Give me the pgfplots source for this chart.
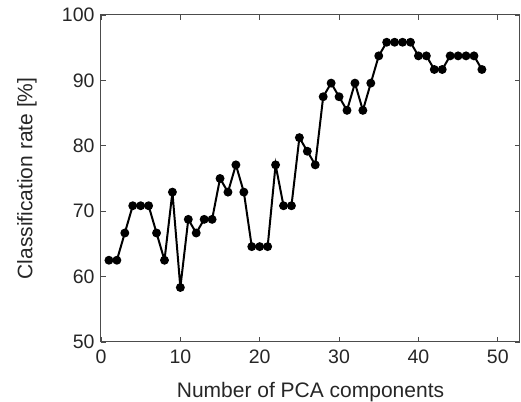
\documentclass[border=0pt]{standalone}
\usepackage{pgfplots}
\pgfplotsset{compat=1.18}
\usepackage{fontspec}
\setmainfont{Liberation Sans}
\begin{document}
\begin{tikzpicture}
\begin{axis}[
  scale only axis,
  width=419pt, height=327pt,
  xmin=0, xmax=52.8, ymin=50, ymax=100,
  xtick={0,10,20,30,40,50},
  ytick={50,60,70,80,90,100},
  tick align=inside,
  major tick length=5pt,
  tick style={line width=0.8pt, color=black!70},
  axis line style={line width=1pt, color=black!70},
  every tick label/.append style={font=\fontsize{19.5}{22}\selectfont, text=black!85},
  xticklabel style={yshift=-4.5pt},
  yticklabel style={xshift=-3pt},
  label style={font=\fontsize{21}{24}\selectfont, text=black!85},
  /pgf/number format/assume math mode=true,
  xlabel={Number of PCA components},
  ylabel={Classification rate [\%]},
  xlabel style={at={(axis description cs:0.5,0)}, anchor=north, inner sep=0pt, yshift=-40pt},
  ylabel style={at={(axis description cs:0,0.5)}, anchor=north, inner sep=0pt, yshift=84pt},
]
\addplot[black, line width=2pt, mark=*, mark size=3.4pt] coordinates {
(1,62.5)(2,62.5)(3,66.667)(4,70.833)(5,70.833)(6,70.833)(7,66.667)(8,62.5)
(9,72.917)(10,58.333)(11,68.75)(12,66.667)(13,68.75)(14,68.75)(15,75)(16,72.917)
(17,77.083)(18,72.917)(19,64.583)(20,64.583)(21,64.583)(22,77.083)(23,70.833)(24,70.833)
(25,81.25)(26,79.167)(27,77.083)(28,87.5)(29,89.583)(30,87.5)(31,85.417)(32,89.583)
(33,85.417)(34,89.583)(35,93.75)(36,95.833)(37,95.833)(38,95.833)(39,95.833)(40,93.75)
(41,93.75)(42,91.667)(43,91.667)(44,93.75)(45,93.75)(46,93.75)(47,93.75)(48,91.667)
};
\end{axis}
\pgfresetboundingbox
\path ([shift={(-101pt,-60pt)}]current axis.south west) rectangle ([shift={(1pt,15pt)}]current axis.north east);
\end{tikzpicture}
\end{document}
